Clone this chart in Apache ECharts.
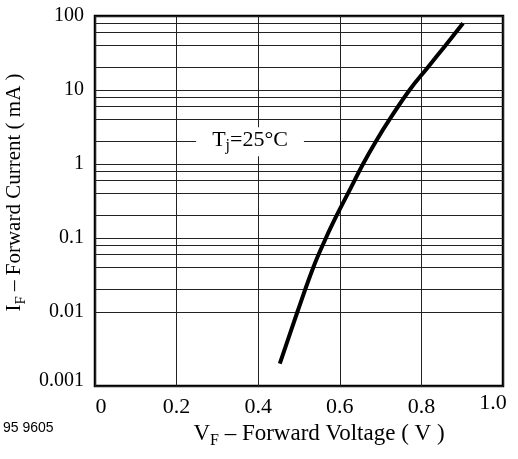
<!DOCTYPE html>
<html><head><meta charset="utf-8">
<script src="https://cdn.jsdelivr.net/npm/echarts@6/dist/echarts.min.js"></script>
<style>html,body{margin:0;padding:0;background:#fff}#c{width:518px;height:459px}</style>
</head><body><div id="c"></div>
<script>
// ---- data ----
const xTickLabels = ['0', '0.2', '0.4', '0.6', '0.8', '1.0'];
const yTickLabels = ['0.001', '0.01', '0.1', '1', '10', '100'];
const voltage = [0.453, 0.496, 0.535, 0.566, 0.592, 0.620, 0.657, 0.688, 0.722, 0.771, 0.815, 0.859, 0.902];
const current = [0.002, 0.01, 0.04, 0.1, 0.2, 0.4, 1, 2, 4, 10, 20, 40, 80];
const minorGridValues = [0.002, 0.004, 0.006, 0.008, 0.02, 0.04, 0.06, 0.08, 0.2, 0.4, 0.6, 0.8, 2, 4, 6, 8, 20, 40, 60, 80];
const annotationText = 'T|j|=25°C';
const annotationAt = [0.38, 2];
const figureCode = '95 9605';

const serif = '"Liberation Serif", "DejaVu Serif", serif';
const chart = echarts.init(document.getElementById('c'));
const ann = annotationText.split('|');

chart.setOption({
  animation: false,
  backgroundColor: '#fff',
  textStyle: { fontFamily: serif, color: '#000' },
  grid: { left: 95, right: 15, top: 16, bottom: 73, outerBoundsMode: 'none', containLabel: false, show: true, borderColor: '#000', borderWidth: 2.5, backgroundColor: 'transparent' },
  xAxis: {
    type: 'value', min: 0, max: 1, interval: 0.2,
    axisLine: { show: false }, axisTick: { show: false },
    splitLine: { show: true, lineStyle: { color: '#222', width: 1 } },
    axisLabel: {
      margin: 8, fontFamily: serif, fontSize: 22, color: '#000',
      formatter: function (v) {
        const i = Math.round(v / 0.2);
        const t = xTickLabels[i];
        if (i === 0) return '{z|' + t + '}';
        if (i === xTickLabels.length - 1) return '{h|' + t + '}';
        return '{n|' + t + '}';
      },
      rich: {
        n: { fontFamily: serif, fontSize: 22, lineHeight: 26 },
        z: { fontFamily: serif, fontSize: 22, lineHeight: 26, padding: [0, 0, 0, 12] },
        h: { fontFamily: serif, fontSize: 22, lineHeight: 18, padding: [0, 20, 0, 0] }
      }
    },
    name: '{m|V}{s|F}{m| – Forward Voltage ( V )}',
    nameLocation: 'middle', nameGap: 31,
    nameTextStyle: {
      padding: [0, 0, 0, 40],
      rich: {
        m: { fontFamily: serif, fontSize: 23, lineHeight: 26, verticalAlign: 'top', color: '#000' },
        s: { fontFamily: serif, fontSize: 16, lineHeight: 14, verticalAlign: 'bottom', color: '#000' }
      }
    }
  },
  yAxis: {
    type: 'log', logBase: 10, min: 0.001, max: 100,
    axisLine: { show: false }, axisTick: { show: false },
    splitLine: { show: true, lineStyle: { color: '#222', width: 1 } },
    axisLabel: {
      margin: 11, fontFamily: serif, fontSize: 20, color: '#000',
      formatter: function (v) {
        const i = Math.round(Math.log10(v)) + 3;
        const t = yTickLabels[i];
        return i === 0 ? '{b|' + t + '}' : t;
      },
      rich: { b: { fontFamily: serif, fontSize: 20, padding: [0, 0, 10, 0] } }
    },
    name: '{m|I}{s|F}{m| – Forward Current ( mA )}',
    nameLocation: 'middle', nameGap: 62, nameRotate: 90,
    nameTextStyle: {
      padding: [0, 0, 0, 17],
      rich: {
        m: { fontFamily: serif, fontSize: 21, lineHeight: 24, verticalAlign: 'top', color: '#000' },
        s: { fontFamily: serif, fontSize: 15, lineHeight: 12, verticalAlign: 'bottom', color: '#000' }
      }
    }
  },
  graphic: [{
    type: 'text', left: 3, top: 421,
    style: { text: figureCode, font: '14px "Liberation Sans", Arial, sans-serif', fill: '#000' }
  }],
  series: [{
    type: 'line',
    data: voltage.map((v, i) => [v, current[i]]),
    showSymbol: false, smooth: 0.4,
    lineStyle: { color: '#000', width: 4 },
    z: 5,
    markLine: {
      silent: true, symbol: ['none', 'none'], animation: false,
      label: { show: false },
      lineStyle: { color: '#222', width: 1, type: 'solid' },
      data: minorGridValues.map(v => ({ yAxis: v }))
    },
    markPoint: {
      silent: true, animation: false,
      data: [{
        coord: annotationAt, symbol: 'rect', symbolSize: [1, 1],
        itemStyle: { color: 'rgba(0,0,0,0)' },
        label: {
          show: true, position: 'inside', backgroundColor: '#fff', padding: [2, 16],
          formatter: '{m|' + ann[0] + '}{s|' + ann[1] + '}{m|' + ann[2] + '}',
          rich: {
            m: { fontFamily: serif, fontSize: 22, lineHeight: 25, verticalAlign: 'top', color: '#000' },
            s: { fontFamily: serif, fontSize: 16, lineHeight: 12, verticalAlign: 'bottom', color: '#000' }
          }
        }
      }]
    }
  }]
});
</script></body></html>
